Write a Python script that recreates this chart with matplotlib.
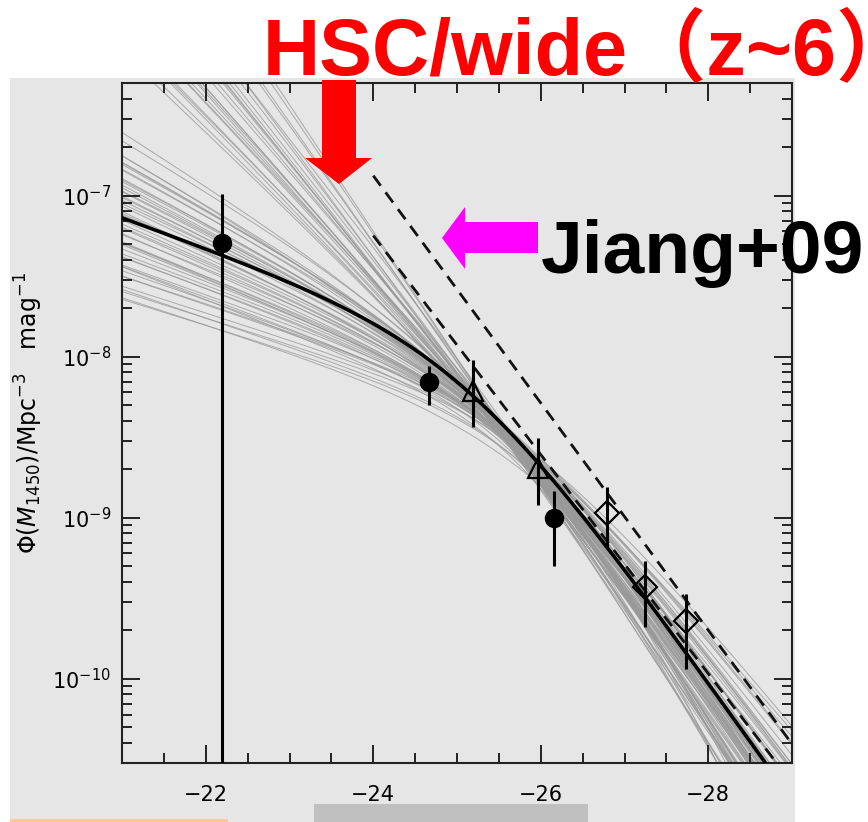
import numpy as np
import matplotlib
matplotlib.use("Agg")
import matplotlib.pyplot as plt
from matplotlib.patches import Rectangle, Polygon
from matplotlib.ticker import FixedLocator, NullFormatter

W, H = 868, 822

# best-fit double power law
fit_logphi = -7.91
fit_mstar = -25.12
fit_alpha = -1.47
fit_beta = -2.83

# sample curves (faint slope, bright slope, break mag, log phi at M=-26)
samp_alpha = [-2.20, -2.25, -2.30, -2.32, -2.35, -2.38, -2.40, -2.42, -2.45, -2.48, -2.50,
              -2.52, -2.55, -2.58, -2.60, -2.63, -2.65, -2.70, -2.28, -2.36, -2.44, -2.56,
              -2.75, -2.80, -2.85, -2.90,
              -1.82,
              -1.40, -1.41, -1.42, -1.43, -1.44, -1.45, -1.46, -1.47, -1.48, -1.49,
              -1.50, -1.51, -1.52, -1.53, -1.54, -1.55, -1.56, -1.57, -1.58, -1.59,
              -1.60, -1.61, -1.62, -1.63, -1.64, -1.65, -1.66, -1.67, -1.68, -1.69,
              -1.70, -1.71, -1.72, -1.73, -1.74, -1.75, -1.445, -1.505, -1.565, -1.625,
              -1.685, -1.475, -1.535, -1.595, -1.655, -1.715, -1.78, -1.415]
samp_beta = [-2.80, -3.00, -2.90, -3.10, -2.85, -3.80, -3.00, -2.95, -3.10, -2.90, -4.00,
             -3.00, -3.05, -2.90, -3.20, -3.00, -3.60, -3.10, -2.95, -3.05, -3.25, -2.90,
             -3.10, -3.00, -3.20, -3.10,
             -2.90,
             -2.90, -3.10, -2.70, -3.00, -3.25, -2.80, -3.05, -2.60, -3.15, -2.75,
             -2.95, -3.30, -2.85, -3.05, -2.65, -3.20, -2.80, -2.95, -3.10, -2.70,
             -3.00, -2.85, -3.25, -2.75, -2.90, -3.15, -2.60, -2.95, -3.05, -2.80,
             -2.70, -3.10, -2.85, -3.00, -2.55, -2.90, -3.20, -2.75, -3.00, -2.85,
             -3.10, -2.65, -2.95, -3.15, -2.80, -3.00, -2.90, -3.05]
samp_mstar = [-26.6, -26.9, -26.7, -27.1, -26.8, -27.2, -27.0, -26.9, -27.2, -27.0, -27.3,
              -27.1, -27.3, -27.0, -27.4, -27.2, -27.3, -27.6, -26.8, -27.0, -27.3, -27.2,
              -27.6, -27.7, -27.8, -27.9,
              -25.30,
              -25.95, -26.05, -25.90, -26.00, -25.85, -25.95, -25.80, -25.92, -25.78, -25.88,
              -25.75, -25.85, -25.70, -25.80, -25.68, -25.78, -25.62, -25.74, -25.60, -25.70,
              -25.56, -25.66, -25.52, -25.62, -25.48, -25.60, -25.45, -25.55, -25.42, -25.52,
              -25.38, -25.48, -25.35, -25.44, -25.32, -25.40, -25.98, -25.72, -25.76, -25.50,
              -25.55, -25.80, -25.82, -25.58, -25.58, -25.36, -25.30, -25.92]
samp_phi26 = [-8.73, -8.75, -8.77, -8.79, -8.74, -8.71, -8.76, -8.78, -8.80, -8.75, -8.72,
              -8.77, -8.79, -8.76, -8.82, -8.78, -8.74, -8.83, -8.74, -8.77, -8.80, -8.79,
              -8.78, -8.79, -8.80, -8.80,
              -8.72,
              -8.76, -8.70, -8.80, -8.66, -8.74, -8.68, -8.72, -8.64, -8.78, -8.69,
              -8.71, -8.82, -8.67, -8.73, -8.65, -8.77, -8.70, -8.72, -8.75, -8.66,
              -8.69, -8.71, -8.79, -8.68, -8.70, -8.74, -8.63, -8.72, -8.76, -8.69,
              -8.67, -8.73, -8.70, -8.72, -8.64, -8.71, -8.78, -8.68, -8.74, -8.70,
              -8.75, -8.66, -8.71, -8.76, -8.69, -8.73, -8.70, -8.72]

# HSC filled circles
hsc_mag = [-22.19, -24.66, -26.16]
hsc_phi = [5.1e-8, 7.0e-9, 1.0e-9]
hsc_lo = [1e-12, 5.0e-9, 5.0e-10]
hsc_hi = [1.03e-7, 8.8e-9, 1.47e-9]

# open triangles
tri_mag = [-25.19, -25.97]
tri_phi = [6.15e-9, 2.05e-9]
tri_lo = [3.67e-9, 1.2e-9]
tri_hi = [9.6e-9, 3.14e-9]

# open diamonds
dia_mag = [-26.79, -27.24, -27.74]
dia_phi = [1.07e-9, 3.72e-10, 2.27e-10]
dia_lo = [6.4e-10, 2.09e-10, 1.15e-10]
dia_hi = [1.55e-9, 5.37e-10, 3.36e-10]

# Jiang+09 dashed lines
jiang_mag = [-24.0, -29.0]
jiang_a = [1.33e-7, 3.94e-11]
jiang_b = [5.65e-8, 2.25e-11]

x_major = [-22, -24, -26, -28]
x_minor = [-21.5, -22.5, -23, -23.5, -24.5, -25, -25.5, -26.5, -27, -27.5, -28.5]
y_major = [1e-10, 1e-9, 1e-8, 1e-7]


def dpl(m, logphi, mstar, alpha, beta):
    x = m - mstar
    return 10**logphi / (10**(0.4 * (alpha + 1) * x) + 10**(0.4 * (beta + 1) * x))


def fx(x):
    return x / W


def fy(y):
    return 1 - y / H


fig = plt.figure(figsize=(W / 100, H / 100), dpi=100)
fig.patch.set_facecolor("white")
bg = "#e6e6e6"

# slide background pieces
fig.add_artist(Rectangle((fx(10), 0), fx(795) - fx(10), fy(78), transform=fig.transFigure,
                         facecolor=bg, edgecolor="none", zorder=-2))
fig.add_artist(Rectangle((fx(10), 0), fx(228) - fx(10), 3 / H, transform=fig.transFigure,
                         facecolor="#ffc896", edgecolor="none", zorder=-1))
fig.add_artist(Rectangle((fx(314), 0), fx(588) - fx(314), 18 / H, transform=fig.transFigure,
                         facecolor="#c0c0c0", edgecolor="none", zorder=-1))

ax = fig.add_axes([fx(122), fy(763), fx(792) - fx(122), fy(83) - fy(763)])
ax.set_facecolor(bg)

m = np.linspace(-21, -29, 400)
for a, b, ms, p26 in zip(samp_alpha, samp_beta, samp_mstar, samp_phi26):
    x26 = -26.0 - ms
    lp = p26 + np.log10(10**(0.4 * (a + 1) * x26) + 10**(0.4 * (b + 1) * x26))
    ax.plot(m, dpl(m, lp, ms, a, b), color="#999999", lw=0.7, alpha=0.8, zorder=1)

ax.plot(m, dpl(m, fit_logphi, fit_mstar, fit_alpha, fit_beta), color="black", lw=2.6, zorder=3)

ax.plot(jiang_mag, jiang_a, color="#111111", lw=2, dashes=[4.5, 3], zorder=4)
ax.plot(jiang_mag, jiang_b, color="#111111", lw=2, dashes=[4.5, 3], zorder=4)


def errs(phi, lo, hi):
    phi = np.array(phi)
    return [phi - np.array(lo), np.array(hi) - phi]


ax.errorbar(hsc_mag, hsc_phi, yerr=errs(hsc_phi, hsc_lo, hsc_hi), fmt="o", color="black",
            ms=13, elinewidth=2.2, capsize=0, zorder=5)
ax.errorbar(tri_mag, tri_phi, yerr=errs(tri_phi, tri_lo, tri_hi), fmt="^", color="black",
            mfc="none", mew=1.6, ms=15, elinewidth=2.2, capsize=0, zorder=5)
ax.errorbar(dia_mag, dia_phi, yerr=errs(dia_phi, dia_lo, dia_hi), fmt="D", color="black",
            mfc="none", mew=1.6, ms=12, elinewidth=2.2, capsize=0, zorder=5)

ax.set_yscale("log")
ax.set_xlim(-21, -29)
ax.set_ylim(3e-11, 5e-7)
ax.xaxis.set_major_locator(FixedLocator(x_major))
ax.xaxis.set_minor_locator(FixedLocator(x_minor))
ax.yaxis.set_major_locator(FixedLocator(y_major))
y_minor = [k * d for d in [1e-11, 1e-10, 1e-9, 1e-8, 1e-7] for k in range(2, 10)
           if 3e-11 <= k * d <= 5e-7]
ax.yaxis.set_minor_locator(FixedLocator(y_minor))
ax.yaxis.set_minor_formatter(NullFormatter())
ax.tick_params(which="both", direction="in", top=True, right=True, width=1.4, color="#222222")
ax.tick_params(which="major", length=13, labelsize=15)
ax.tick_params(which="minor", length=7)
ax.tick_params(axis="x", pad=16)
ax.tick_params(axis="y", pad=8)
for s in ax.spines.values():
    s.set_linewidth(1.5)
    s.set_color("#222222")

ax.set_ylabel(r"$\Phi(M_{1450})/\mathrm{Mpc}^{-3}\quad\mathrm{mag}^{-1}$", fontsize=17)
ax.yaxis.set_label_coords((45 - 122) / 670, 0.515)

# annotations
red_arrow = [(322, 80), (356, 80), (356, 158), (372, 158), (339, 184), (305, 158), (322, 158)]
fig.add_artist(Polygon([(fx(x), fy(y)) for x, y in red_arrow], closed=True,
                       transform=fig.transFigure, facecolor="#ff0000", edgecolor="none", zorder=6))
mag_arrow = [(442, 238), (465, 207), (465, 222), (538, 222), (538, 253), (465, 253), (465, 269)]
fig.add_artist(Polygon([(fx(x), fy(y)) for x, y in mag_arrow], closed=True,
                       transform=fig.transFigure, facecolor="#ff00ff", edgecolor="none", zorder=6))

fig.text(fx(263), fy(75), "HSC/wide（z~6）", color="#ff0000", fontsize=57, fontweight="bold",
         family=["Liberation Sans", "Noto Sans CJK JP"], ha="left", va="baseline", zorder=7)

fig.text(fx(541), fy(273), "Jiang+09", color="black", fontsize=54, fontweight="bold",
         family=["Liberation Sans"], ha="left", va="baseline", zorder=7)

fig.savefig("out.png", dpi=100, facecolor="white")
